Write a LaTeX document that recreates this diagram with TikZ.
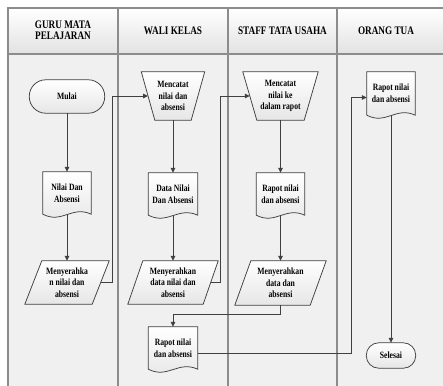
\documentclass[tikz,border=0pt]{standalone}
\usepackage{fontspec}
\setmainfont{Liberation Serif}[FakeStretch=0.8]
\usetikzlibrary{arrows.meta,calc}
\definecolor{lanebg}{HTML}{F0F0F0}
\definecolor{hdrbot}{HTML}{E2E2E2}
\definecolor{framec}{HTML}{8C8C8C}
\definecolor{ink}{HTML}{404040}
\definecolor{shbot}{HTML}{E6E6E6}
\pgfdeclarelayer{bg}
\pgfdeclarelayer{shapes}
\pgfsetlayers{bg,shapes,main}
\tikzset{
  hdr/.style={font=\fontsize{11.5}{11.4}\selectfont\bfseries, align=center, text=black, inner sep=0pt},
  lbl/.style={font=\fontsize{9.6}{11.6}\selectfont\bfseries, align=center, inner sep=0pt, text=black},
  shp/.style={draw=ink, line width=0.75pt, top color=white, bottom color=shbot},
  arr/.style={draw=ink, line width=0.75pt, -{Triangle[length=5pt,width=4.5pt]}},
  lanebox/.style={draw=framec, line width=1.5pt}
}
\newcommand\docpath[2]{%
  \path[shp] (#1.north west) -- (#1.north east) -- (#1.south east)
    .. controls ([shift={({-0.4*#2},-9)}]#1.south east) and ([shift={({0.4*#2},10)}]#1.south west) ..
    (#1.south west) -- cycle;}
\begin{document}
\begin{tikzpicture}[x=1pt,y=-1pt]
\useasboundingbox (0,0) rectangle (443,385);
\clip (0,0) rectangle (443,385);

% lanes
\begin{pgfonlayer}{bg}
  \fill[lanebg] (8,54) rectangle (450,390);
  \shade[top color=white, bottom color=hdrbot] (8,8) rectangle (450,54);
  \draw[lanebox] (450,8) -- (8,8) -- (8,390);
  \draw[draw=framec, line width=1.2pt] (8,54) -- (450,54);
  \foreach \x in {118,228,337} \draw[lanebox] (\x,8) -- (\x,390);
\end{pgfonlayer}

% headers
\node[hdr] (h1) at (63,30.5) {GURU MATA\\PELAJARAN};
\node[hdr] (h2) at (173,31) {WALI KELAS};
\node[hdr] (h3) at (282.5,31) {STAFF TATA USAHA};
\node[hdr] (h4) at (386,31) {ORANG TUA};

% nodes
\node[lbl, minimum width=75pt, minimum height=33pt] (mulai) at (67,96.5) {Mulai};
\node[lbl, minimum width=48pt, minimum height=42pt] (d1) at (67,193) {Nilai Dan\\Absensi};
\node[lbl, minimum width=84pt, minimum height=43pt] (p1) at (67,282.5) {Menyerahka\\n nilai dan\\absensi};

\node[lbl, minimum width=63pt, minimum height=48pt] (t2) at (173,96) {Mencatat\\nilai dan\\absensi};
\node[lbl, minimum width=49pt, minimum height=42pt] (d2) at (173,194) {Data Nilai\\Dan Absensi};
\node[lbl, minimum width=90pt, minimum height=43pt] (p2) at (173,282.5) {Menyerahkan\\data nilai dan\\absensi};
\node[lbl, minimum width=49pt, minimum height=42pt] (d4) at (173,348) {Rapot nilai\\dan absensi};

\node[lbl, minimum width=75pt, minimum height=48pt] (t3) at (280.5,96) {Mencatat\\nilai ke\\dalam rapot};
\node[lbl, minimum width=48pt, minimum height=42pt] (d3) at (280.5,194) {Rapot nilai\\dan absensi};
\node[lbl, minimum width=91pt, minimum height=44pt] (p3) at (280.5,283) {Menyerahkan\\data dan\\absensi};

\node[lbl, minimum width=48pt, minimum height=43pt] (d5) at (391,93.5) {Rapot nilai\\dan absensi};
\node[lbl, minimum width=49pt, minimum height=25pt] (sel) at (391,355.5) {Selesai};

% shapes
\begin{pgfonlayer}{shapes}
  \path[shp, rounded corners=16.4pt] (mulai.north west) rectangle (mulai.south east);
  \path[shp, rounded corners=12.4pt] (sel.north west) rectangle (sel.south east);
  \docpath{d1}{48}
  \docpath{d2}{49}
  \docpath{d3}{48}
  \docpath{d4}{49}
  \docpath{d5}{48}
  \path[shp] (t2.north west) -- (t2.north east) -- ([shift={(-13.5,0)}]t2.south east) -- ([shift={(13.5,0)}]t2.south west) -- cycle;
  \path[shp] (t3.north west) -- (t3.north east) -- ([shift={(-14,0)}]t3.south east) -- ([shift={(14,0)}]t3.south west) -- cycle;
  \path[shp] ([shift={(17,0)}]p1.north west) -- (p1.north east) -- ([shift={(-17,0)}]p1.south east) -- (p1.south west) -- cycle;
  \path[shp] ([shift={(15,0)}]p2.north west) -- (p2.north east) -- ([shift={(-15,0)}]p2.south east) -- (p2.south west) -- cycle;
  \path[shp] ([shift={(16,0)}]p3.north west) -- (p3.north east) -- ([shift={(-16,0)}]p3.south east) -- (p3.south west) -- cycle;
\end{pgfonlayer}

% helper coordinates
\coordinate (j1) at (112,0);
\coordinate (j2) at (220,0);
\coordinate (j3) at (0,314);
\coordinate (j4) at (351,0);
\coordinate (d4out) at ([shift={(0,5)}]d4.east);
\coordinate (d5in) at ([shift={(0,4)}]d5.west);

% connectors
\draw[arr] (mulai.south) -- (d1.north);
\draw[arr] (d1.south) -- (p1.north);
\draw[arr] ([shift={(-8.5,0)}]p1.east) -- (j1 |- p1.east) -- (j1 |- t2.west) -- ([shift={(6.75,0)}]t2.west);
\draw[arr] (t2.south) -- (d2.north);
\draw[arr] (d2.south) -- (p2.north);
\draw[arr] ([shift={(-7.5,0)}]p2.east) -- (j2 |- p2.east) -- (j2 |- t3.west) -- ([shift={(7,0)}]t3.west);
\draw[arr] (t3.south) -- (d3.north);
\draw[arr] (d3.south) -- (p3.north);
\draw[arr] (p3.south) -- (p3.south |- j3) -- (d4.north |- j3) -- (d4.north);
\draw[arr] (d4out) -- (j4 |- d4out) -- (j4 |- d5in) -- (d5in);
\draw[arr] (d5.south) -- (sel.north);
\end{tikzpicture}
\end{document}
